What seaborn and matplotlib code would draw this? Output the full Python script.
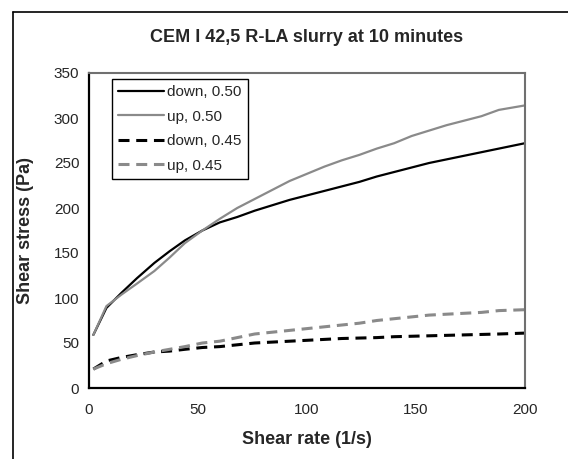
import numpy as np
import pandas as pd
import matplotlib
matplotlib.use("Agg")
import matplotlib.pyplot as plt
from matplotlib.lines import Line2D
from matplotlib.ticker import MultipleLocator
import seaborn as sns

# Shear rate points (1/s)
shear_rate = [2, 8, 15, 22, 30, 37, 44, 52, 60, 68, 76, 84, 92, 100, 108,
              116, 124, 132, 140, 148, 156, 164, 172, 180, 188, 200]

# Shear stress (Pa) for each curve
down_050 = [59, 89, 106, 122, 139, 152, 164, 175, 184, 190, 197, 203, 209, 214,
            219, 224, 229, 235, 240, 245, 250, 254, 258, 262, 266, 272]
up_050 = [59, 91, 104, 116, 130, 145, 161, 175, 188, 200, 210, 220, 230, 238,
          246, 253, 259, 266, 272, 280, 286, 292, 297, 302, 309, 314]
down_045 = [21, 30, 34, 37, 40, 41, 43, 45, 46, 48, 50, 51, 52, 53,
            54, 55, 55.5, 56, 57, 57.5, 58, 58.5, 59, 59.5, 60, 61]
up_045 = [21, 27, 32, 36, 40, 43, 46, 50, 52, 56, 60, 62, 64, 66,
          68, 70, 72, 75, 77, 79, 81, 82, 83, 84, 86, 87]

labels = ["down, 0.50", "up, 0.50", "down, 0.45", "up, 0.45"]
series = [down_050, up_050, down_045, up_045]

frames = []
for lab, vals in zip(labels, series):
    frames.append(pd.DataFrame({"rate": shear_rate, "stress": vals, "curve": lab}))
df = pd.concat(frames, ignore_index=True)

sns.set_style("white")
plt.rcParams["font.family"] = ["Liberation Sans", "DejaVu Sans"]

fig = plt.figure(figsize=(5.68, 4.59), dpi=100)
ax = fig.add_axes([89 / 568, 1 - 388 / 459, 436 / 568, 315 / 459])

black = "#000000"
gray = "#8a8a8a"
palette = {labels[0]: black, labels[1]: gray, labels[2]: black, labels[3]: gray}
dashes = {labels[0]: "", labels[1]: "", labels[2]: (3.6, 2.2), labels[3]: (3.6, 2.2)}
widths = {labels[0]: 1.6, labels[1]: 1.6, labels[2]: 2.2, labels[3]: 2.2}

sns.lineplot(data=df, x="rate", y="stress", hue="curve", style="curve",
             palette=palette, dashes=dashes, linewidth=1.6, ax=ax,
             legend=False)
for line, lab in zip(ax.get_lines(), labels):
    line.set_linewidth(widths[lab])

ax.set_xlim(0, 200)
ax.set_ylim(0, 350)
ax.xaxis.set_major_locator(MultipleLocator(50))
ax.xaxis.set_minor_locator(MultipleLocator(10))
ax.yaxis.set_major_locator(MultipleLocator(50))
ax.yaxis.set_minor_locator(MultipleLocator(10))
ax.tick_params(which="major", direction="in", length=5, width=1.2,
               labelsize=11, color="black")
ax.tick_params(which="minor", direction="in", length=3, width=1.0, color="black")
ax.tick_params(axis="x", which="major", pad=11)
ax.tick_params(axis="y", which="major", pad=7)

for side in ["left", "bottom"]:
    ax.spines[side].set_color("black")
    ax.spines[side].set_linewidth(1.6)
for side in ["top", "right"]:
    ax.spines[side].set_color("#707070")
    ax.spines[side].set_linewidth(1.5)

ax.set_xlabel("Shear rate (1/s)", fontsize=13, fontweight="bold", labelpad=10)
ax.set_ylabel("Shear stress (Pa)", fontsize=13, fontweight="bold", labelpad=14)
ax.set_title("CEM I 42,5 R-LA slurry at 10 minutes", fontsize=13,
             fontweight="bold", pad=22)

handles = [Line2D([], [], color=palette[l], linewidth=widths[l],
                  linestyle="-" if dashes[l] == "" else (0, dashes[l]))
           for l in labels]
leg = ax.legend(handles, labels, loc="upper left", bbox_to_anchor=(0.053, 0.98),
                fontsize=11, handlelength=3.0, handletextpad=0.2,
                labelspacing=0.68, borderpad=0.4, fancybox=False,
                framealpha=1, edgecolor="black", borderaxespad=0)
leg.get_frame().set_linewidth(1.0)

# outer chart frame (cropped at right and bottom)
fig.add_artist(Line2D([12.5 / 568, 12.5 / 568], [0, 1 - 11.5 / 459],
                      transform=fig.transFigure, color="black", linewidth=1.2))
fig.add_artist(Line2D([12.5 / 568, 1], [1 - 11.5 / 459, 1 - 11.5 / 459],
                      transform=fig.transFigure, color="black", linewidth=1.2))

fig.savefig("out.png", dpi=100)
